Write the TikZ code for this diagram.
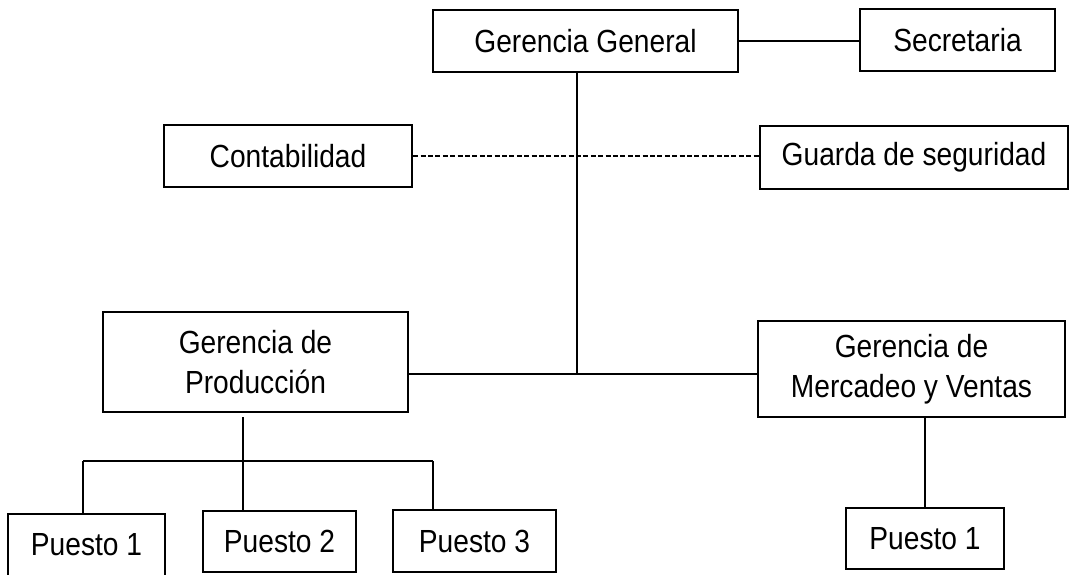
\documentclass[tikz,border=0pt]{standalone}
\usepackage{fontspec}
\setmainfont{Liberation Sans}[FakeStretch=0.88]

\begin{document}
\begin{tikzpicture}[x=0.5pt,y=-0.5pt]

\tikzstyle{orgbox}=[draw,line width=1.2pt,inner sep=0pt,align=center,font=\fontsize{16}{20}\selectfont]
\tikzstyle{link}=[line width=1pt]

\useasboundingbox (0,0) rectangle (1072,574);

% NODES
% top level
\node[orgbox,minimum width=152.5pt,minimum height=31pt] at (585.5,41) (gg){Gerencia General};
\node[orgbox,minimum width=97.5pt,minimum height=31pt] at (957.5,40) (sec){Secretaria};
\node[orgbox,minimum width=124pt,minimum height=31pt] at (288,156) (cont){Contabilidad};
\node[orgbox,minimum width=154pt,minimum height=31.5pt] at (914,157.5) (guarda){Guarda de seguridad};

% managers
\node[orgbox,minimum width=152.5pt,minimum height=50pt] at (255.5,362) (prod){Gerencia de\\Producción};
\node[orgbox,minimum width=153.5pt,minimum height=48pt] at (911.5,369) (merc){Gerencia de\\Mercadeo y Ventas};

% posts
\node[orgbox,minimum width=78.5pt,minimum height=31pt] at (86.5,545) (p1){Puesto 1};
\node[orgbox,minimum width=76.5pt,minimum height=30.5pt] at (279.5,541.5) (p2){Puesto 2};
\node[orgbox,minimum width=81.5pt,minimum height=31pt] at (474.5,541) (p3){Puesto 3};
\node[orgbox,minimum width=79pt,minimum height=30.5pt] at (925,538.5) (mp1){Puesto 1};

% junctions
\coordinate (jn) at (577,374);
\coordinate (pb) at (243,461);
\coordinate (b1) at (83,461);
\coordinate (b3) at (433,461);

% LINES
\draw[link](gg.east) -- (gg.east -| sec.west);
\draw[link,dash pattern=on 2.5pt off 1.2pt](cont.east) -- (cont.east -| guarda.west);
\draw[link](gg.south -| jn) -- (jn);
\draw[link](prod.east |- jn) -- (merc.west |- jn);

\draw[link]([yshift=-2pt]prod.south -| pb) -- (pb);
\draw[link](b1) -- (b3);
\draw[link](b1) -- (b1 |- p1.north);
\draw[link](pb) -- (pb |- p2.north);
\draw[link](b3) -- (b3 |- p3.north);

\draw[link](merc.south -| mp1.north) -- (mp1.north);

\end{tikzpicture}
\end{document}
